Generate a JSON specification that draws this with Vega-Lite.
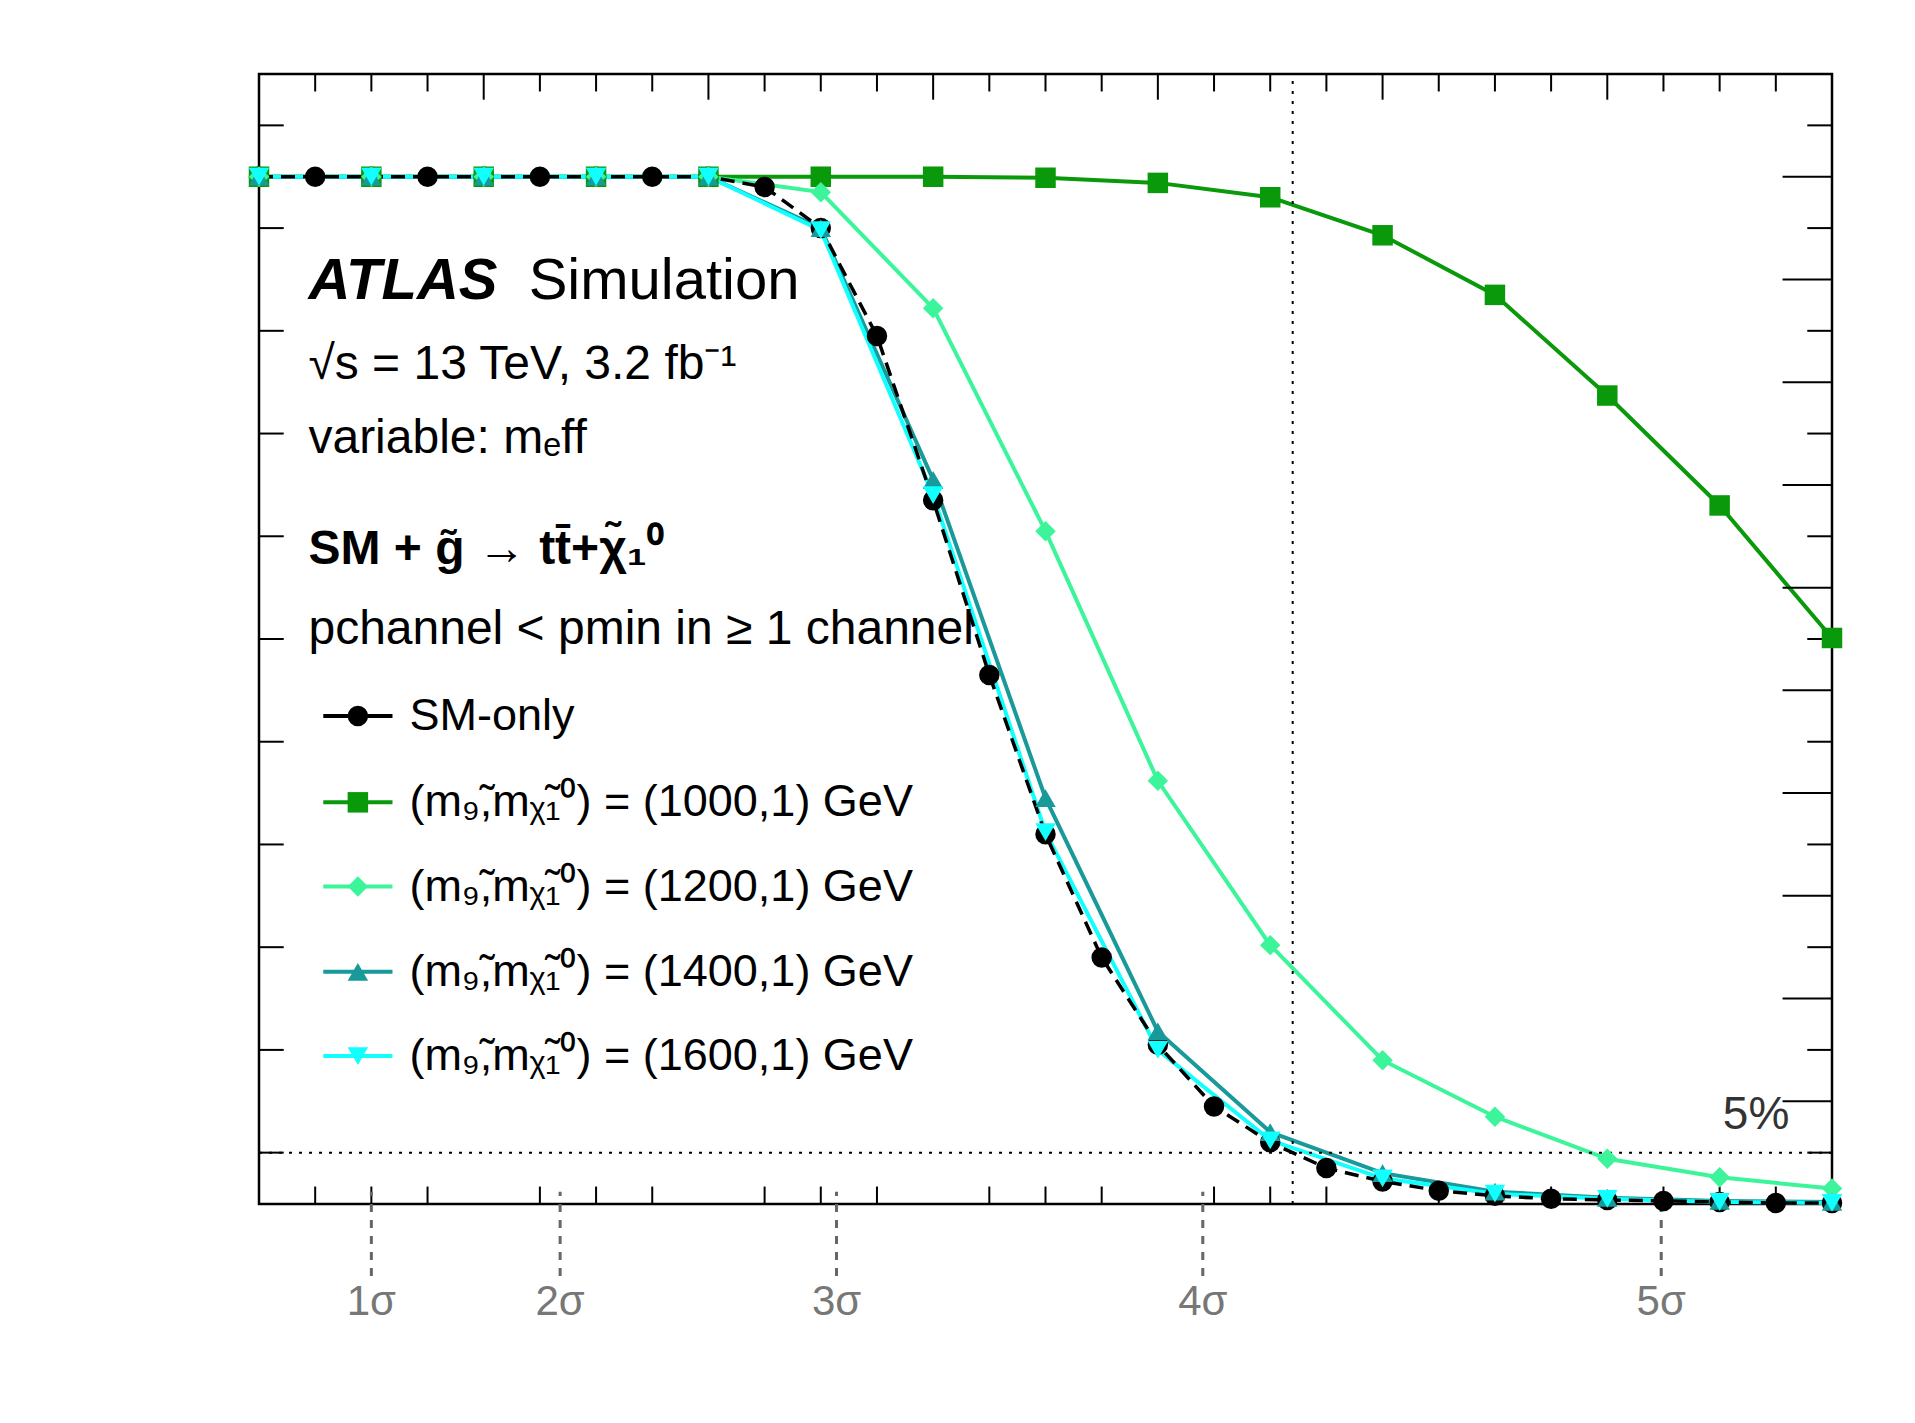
{
"$schema":"https://vega.github.io/schema/vega-lite/v6.json",
"autosize":"none","width":1573,"height":1130,
"padding":{"left":259,"top":74,"right":83,"bottom":219},
"background":"white",
"config":{"font":"Liberation Sans","view":{"stroke":"black","strokeWidth":2.5}},
"resolve":{"scale":{"x":"shared","y":"shared"}},
"datasets":{"main":[
{"s":"SM","x":0,"y":1},{"s":"SM","x":0.25,"y":1},{"s":"SM","x":0.5,"y":1},{"s":"SM","x":0.75,"y":1},{"s":"SM","x":1,"y":1},{"s":"SM","x":1.25,"y":1},{"s":"SM","x":1.5,"y":1},{"s":"SM","x":1.75,"y":1},{"s":"SM","x":2,"y":1},{"s":"SM","x":2.25,"y":0.99},{"s":"SM","x":2.5,"y":0.95},{"s":"SM","x":2.75,"y":0.845},{"s":"SM","x":3,"y":0.685},{"s":"SM","x":3.25,"y":0.515},{"s":"SM","x":3.5,"y":0.36},{"s":"SM","x":3.75,"y":0.24},{"s":"SM","x":4,"y":0.155},{"s":"SM","x":4.25,"y":0.095},{"s":"SM","x":4.5,"y":0.06},{"s":"SM","x":4.75,"y":0.035},{"s":"SM","x":5,"y":0.022},{"s":"SM","x":5.25,"y":0.013},{"s":"SM","x":5.5,"y":0.008},{"s":"SM","x":5.75,"y":0.005},{"s":"SM","x":6,"y":0.004},{"s":"SM","x":6.25,"y":0.003},{"s":"SM","x":6.5,"y":0.002},{"s":"SM","x":6.75,"y":0.001},{"s":"SM","x":7,"y":0.001},
{"s":"1000","x":0,"y":1},{"s":"1000","x":0.5,"y":1},{"s":"1000","x":1,"y":1},{"s":"1000","x":1.5,"y":1},{"s":"1000","x":2,"y":1},{"s":"1000","x":2.5,"y":1},{"s":"1000","x":3,"y":1},{"s":"1000","x":3.5,"y":0.999},{"s":"1000","x":4,"y":0.994},{"s":"1000","x":4.5,"y":0.98},{"s":"1000","x":5,"y":0.943},{"s":"1000","x":5.5,"y":0.885},{"s":"1000","x":6,"y":0.787},{"s":"1000","x":6.5,"y":0.68},{"s":"1000","x":7,"y":0.551},
{"s":"1200","x":0,"y":1},{"s":"1200","x":0.5,"y":1},{"s":"1200","x":1,"y":1},{"s":"1200","x":1.5,"y":1},{"s":"1200","x":2,"y":1},{"s":"1200","x":2.5,"y":0.985},{"s":"1200","x":3,"y":0.872},{"s":"1200","x":3.5,"y":0.655},{"s":"1200","x":4,"y":0.412},{"s":"1200","x":4.5,"y":0.252},{"s":"1200","x":5,"y":0.14},{"s":"1200","x":5.5,"y":0.085},{"s":"1200","x":6,"y":0.044},{"s":"1200","x":6.5,"y":0.026},{"s":"1200","x":7,"y":0.015},
{"s":"1400","x":0,"y":1},{"s":"1400","x":0.5,"y":1},{"s":"1400","x":1,"y":1},{"s":"1400","x":1.5,"y":1},{"s":"1400","x":2,"y":1},{"s":"1400","x":2.5,"y":0.95},{"s":"1400","x":3,"y":0.705},{"s":"1400","x":3.5,"y":0.395},{"s":"1400","x":4,"y":0.168},{"s":"1400","x":4.5,"y":0.07},{"s":"1400","x":5,"y":0.03},{"s":"1400","x":5.5,"y":0.012},{"s":"1400","x":6,"y":0.006},{"s":"1400","x":6.5,"y":0.003},{"s":"1400","x":7,"y":0.002},
{"s":"1600","x":0,"y":1},{"s":"1600","x":0.5,"y":1},{"s":"1600","x":1,"y":1},{"s":"1600","x":1.5,"y":1},{"s":"1600","x":2,"y":1},{"s":"1600","x":2.5,"y":0.948},{"s":"1600","x":3,"y":0.69},{"s":"1600","x":3.5,"y":0.362},{"s":"1600","x":4,"y":0.15},{"s":"1600","x":4.5,"y":0.062},{"s":"1600","x":5,"y":0.025},{"s":"1600","x":5.5,"y":0.01},{"s":"1600","x":6,"y":0.005},{"s":"1600","x":6.5,"y":0.002},{"s":"1600","x":7,"y":0.001}
],
"leg":[
{"s":"SM","y":0.475,"x1":0.286,"x2":0.594,"xm":0.44,"xt":0.67,"t":"SM-only"},
{"s":"1000","y":0.391,"x1":0.286,"x2":0.594,"xm":0.44,"xt":0.67,"t":"(m₉̃,mᵪ̃₁⁰) = (1000,1) GeV"},
{"s":"1200","y":0.309,"x1":0.286,"x2":0.594,"xm":0.44,"xt":0.67,"t":"(m₉̃,mᵪ̃₁⁰) = (1200,1) GeV"},
{"s":"1400","y":0.226,"x1":0.286,"x2":0.594,"xm":0.44,"xt":0.67,"t":"(m₉̃,mᵪ̃₁⁰) = (1400,1) GeV"},
{"s":"1600","y":0.144,"x1":0.286,"x2":0.594,"xm":0.44,"xt":0.67,"t":"(m₉̃,mᵪ̃₁⁰) = (1600,1) GeV"}
],
"ticks":[
{"x":0.25,"y":0,"y2":0.017},{"x":0.5,"y":0,"y2":0.017},{"x":0.75,"y":0,"y2":0.017},{"x":1.25,"y":0,"y2":0.017},{"x":1.5,"y":0,"y2":0.017},{"x":1.75,"y":0,"y2":0.017},{"x":2.25,"y":0,"y2":0.017},{"x":2.5,"y":0,"y2":0.017},{"x":2.75,"y":0,"y2":0.017},{"x":3.25,"y":0,"y2":0.017},{"x":3.5,"y":0,"y2":0.017},{"x":3.75,"y":0,"y2":0.017},{"x":4.25,"y":0,"y2":0.017},{"x":4.5,"y":0,"y2":0.017},{"x":4.75,"y":0,"y2":0.017},{"x":5.25,"y":0,"y2":0.017},{"x":5.5,"y":0,"y2":0.017},{"x":5.75,"y":0,"y2":0.017},{"x":6.25,"y":0,"y2":0.017},{"x":6.5,"y":0,"y2":0.017},{"x":6.75,"y":0,"y2":0.017},
{"x":0.25,"y":1.1,"y2":1.083},{"x":0.5,"y":1.1,"y2":1.083},{"x":0.75,"y":1.1,"y2":1.083},{"x":1,"y":1.1,"y2":1.075},{"x":1.25,"y":1.1,"y2":1.083},{"x":1.5,"y":1.1,"y2":1.083},{"x":1.75,"y":1.1,"y2":1.083},{"x":2,"y":1.1,"y2":1.075},{"x":2.25,"y":1.1,"y2":1.083},{"x":2.5,"y":1.1,"y2":1.083},{"x":2.75,"y":1.1,"y2":1.083},{"x":3,"y":1.1,"y2":1.075},{"x":3.25,"y":1.1,"y2":1.083},{"x":3.5,"y":1.1,"y2":1.083},{"x":3.75,"y":1.1,"y2":1.083},{"x":4,"y":1.1,"y2":1.075},{"x":4.25,"y":1.1,"y2":1.083},{"x":4.5,"y":1.1,"y2":1.083},{"x":4.75,"y":1.1,"y2":1.083},{"x":5,"y":1.1,"y2":1.075},{"x":5.25,"y":1.1,"y2":1.083},{"x":5.5,"y":1.1,"y2":1.083},{"x":5.75,"y":1.1,"y2":1.083},{"x":6,"y":1.1,"y2":1.075},{"x":6.25,"y":1.1,"y2":1.083},{"x":6.5,"y":1.1,"y2":1.083},{"x":6.75,"y":1.1,"y2":1.083},
{"x":4.6,"y":0,"y2":1.1,"dot":1}
],
"hticks":[
{"y":0.05,"x":0,"x2":0.11},{"y":0.15,"x":0,"x2":0.11},{"y":0.25,"x":0,"x2":0.11},{"y":0.35,"x":0,"x2":0.11},{"y":0.45,"x":0,"x2":0.11},{"y":0.55,"x":0,"x2":0.11},{"y":0.65,"x":0,"x2":0.11},{"y":0.75,"x":0,"x2":0.11},{"y":0.85,"x":0,"x2":0.11},{"y":0.95,"x":0,"x2":0.11},{"y":1.05,"x":0,"x2":0.11},
{"y":0.05,"x":7,"x2":6.89},{"y":0.15,"x":7,"x2":6.89},{"y":0.25,"x":7,"x2":6.89},{"y":0.35,"x":7,"x2":6.89},{"y":0.45,"x":7,"x2":6.89},{"y":0.55,"x":7,"x2":6.89},{"y":0.65,"x":7,"x2":6.89},{"y":0.75,"x":7,"x2":6.89},{"y":0.85,"x":7,"x2":6.89},{"y":0.95,"x":7,"x2":6.89},{"y":1.05,"x":7,"x2":6.89},
{"y":0.1,"x":7,"x2":6.78},{"y":0.2,"x":7,"x2":6.78},{"y":0.3,"x":7,"x2":6.78},{"y":0.4,"x":7,"x2":6.78},{"y":0.5,"x":7,"x2":6.78},{"y":0.6,"x":7,"x2":6.78},{"y":0.7,"x":7,"x2":6.78},{"y":0.8,"x":7,"x2":6.78},{"y":0.9,"x":7,"x2":6.78},{"y":1.0,"x":7,"x2":6.78},
{"y":0.05,"x":0,"x2":7,"dot":1}
],
"sig":[{"x":0.5,"t":"1σ","y":-0.07,"y2":0.012,"yt":-0.095},{"x":1.34,"t":"2σ","y":-0.07,"y2":0.012,"yt":-0.095},{"x":2.57,"t":"3σ","y":-0.07,"y2":0.012,"yt":-0.095},{"x":4.2,"t":"4σ","y":-0.07,"y2":0.012,"yt":-0.095},{"x":6.24,"t":"5σ","y":-0.07,"y2":0.012,"yt":-0.095}],
"txt":[{"x":0.22,"y":0.817,"t":"√s = 13 TeV, 3.2 fb⁻¹"},{"x":0.22,"y":0.745,"t":"variable: mₑff"},{"x":0.22,"y":0.559,"t":"pchannel < pmin in ≥ 1 channel"}]
},
"layer":[
{"data":{"name":"main"},"transform":[{"filter":"datum.s!='SM'"}],"mark":{"type":"line","strokeWidth":4},
"encoding":{
"x":{"field":"x","type":"quantitative","scale":{"domain":[0,7],"nice":false,"zero":false},
"axis":{"orient":"bottom","values":[0,1,2,3,4,5,6,7],"format":"d","labelFontSize":55,"labelColor":"black","tickColor":"black","tickSize":-25,"tickWidth":2,"domain":false,"grid":false,"labelPadding":35,"labelFlush":false,
"title":"-log₁₀(pₘᵢₙ)","titleFontSize":52,"titleFontWeight":"normal","titleAnchor":"end","titlePadding":70,"titleColor":"black"}},
"y":{"field":"y","type":"quantitative","scale":{"domain":[0,1.1],"nice":false},
"axis":{"values":[0,0.2,0.4,0.6,0.8,1.0],"format":".1f","labelFontSize":55,"labelColor":"black","tickColor":"black","tickSize":-40,"tickWidth":2,"domain":false,"grid":false,"labelPadding":48,
"title":"Fraction of pseudo-experiments","titleFontSize":55,"titleFontWeight":"normal","titleAnchor":"end","titlePadding":40,"titleColor":"black"}},
"color":{"field":"s","type":"nominal","scale":{"domain":["SM","1000","1200","1400","1600"],"range":["black","#0a990a","#3cf59a","#18999a","#11ffff"]},"legend":null}}},
{"data":{"name":"ticks"},"mark":{"type":"rule","color":"black","strokeWidth":2},
"encoding":{"x":{"field":"x","type":"quantitative","axis":null},"y":{"field":"y","type":"quantitative","axis":null},"y2":{"field":"y2"},
"strokeDash":{"field":"dot","type":"nominal","scale":{"domain":[1],"range":[[3,7]],"unknown":[]},"legend":null}}},
{"data":{"name":"hticks"},"mark":{"type":"rule","color":"black","strokeWidth":2},
"encoding":{"y":{"field":"y","type":"quantitative","axis":null},"x":{"field":"x","type":"quantitative","axis":null},"x2":{"field":"x2"},
"strokeDash":{"field":"dot","type":"nominal","scale":{"domain":[1],"range":[[3,7]],"unknown":[]},"legend":null}}},
{"data":{"name":"sig"},"mark":{"type":"rule","color":"#666","strokeWidth":3,"strokeDash":[8,8]},
"encoding":{"x":{"field":"x","type":"quantitative","axis":null},"y":{"field":"y","type":"quantitative","axis":null},"y2":{"field":"y2"}}},
{"data":{"name":"sig"},"mark":{"type":"text","fontSize":42,"color":"#777","align":"center","baseline":"middle"},
"encoding":{"x":{"field":"x","type":"quantitative","axis":null},"y":{"field":"yt","type":"quantitative","axis":null},"text":{"field":"t"}}},
{"data":{"name":"main"},"transform":[{"filter":"datum.s=='SM'"}],"mark":{"type":"line","strokeWidth":3.5,"strokeDash":[14,8],"color":"black"},
"encoding":{"x":{"field":"x","type":"quantitative","axis":null},"y":{"field":"y","type":"quantitative","axis":null}}},
{"data":{"name":"main"},"mark":{"type":"point","filled":true,"opacity":1,"size":420,"strokeWidth":0},
"encoding":{"x":{"field":"x","type":"quantitative","axis":null},"y":{"field":"y","type":"quantitative","axis":null},"color":{"field":"s","type":"nominal","legend":null},
"shape":{"field":"s","type":"nominal","scale":{"domain":["SM","1000","1200","1400","1600"],"range":["circle","square","diamond","triangle-up","triangle-down"]},"legend":null}}},
{"data":{"name":"leg"},"mark":{"type":"rule","strokeWidth":4},"encoding":{"x":{"field":"x1","type":"quantitative","axis":null},"x2":{"field":"x2"},"y":{"field":"y","type":"quantitative","axis":null},"color":{"field":"s","type":"nominal","legend":null}}},
{"data":{"name":"leg"},"mark":{"type":"point","filled":true,"opacity":1,"size":420,"strokeWidth":0},"encoding":{"x":{"field":"xm","type":"quantitative","axis":null},"y":{"field":"y","type":"quantitative","axis":null},"color":{"field":"s","type":"nominal","legend":null},"shape":{"field":"s","type":"nominal","legend":null}}},
{"data":{"name":"leg"},"mark":{"type":"text","fontSize":45,"align":"left","baseline":"middle","color":"black"},"encoding":{"x":{"field":"xt","type":"quantitative","axis":null},"y":{"field":"y","type":"quantitative","axis":null},"text":{"field":"t"}}},
{"data":{"values":[{"x":0.22,"y":0.898,"t":"ATLAS"}]},"mark":{"type":"text","fontSize":58,"fontWeight":"bold","fontStyle":"italic","align":"left","baseline":"middle"},"encoding":{"x":{"field":"x","type":"quantitative","axis":null},"y":{"field":"y","type":"quantitative","axis":null},"text":{"field":"t"}}},
{"data":{"values":[{"x":1.2,"y":0.898,"t":"Simulation"}]},"mark":{"type":"text","fontSize":58,"align":"left","baseline":"middle"},"encoding":{"x":{"field":"x","type":"quantitative","axis":null},"y":{"field":"y","type":"quantitative","axis":null},"text":{"field":"t"}}},
{"data":{"name":"txt"},"mark":{"type":"text","fontSize":48,"align":"left","baseline":"middle"},"encoding":{"x":{"field":"x","type":"quantitative","axis":null},"y":{"field":"y","type":"quantitative","axis":null},"text":{"field":"t"}}},
{"data":{"values":[{"x":0.22,"y":0.637,"t":"SM + g̃ → tt̄+χ̃₁⁰"}]},"mark":{"type":"text","fontSize":48,"fontWeight":"bold","align":"left","baseline":"middle"},"encoding":{"x":{"field":"x","type":"quantitative","axis":null},"y":{"field":"y","type":"quantitative","axis":null},"text":{"field":"t"}}},
{"data":{"values":[{"x":6.81,"y":0.087,"t":"5%"}]},"mark":{"type":"text","fontSize":46,"align":"right","baseline":"middle","color":"#333"},"encoding":{"x":{"field":"x","type":"quantitative","axis":null},"y":{"field":"y","type":"quantitative","axis":null},"text":{"field":"t"}}}
]
}
